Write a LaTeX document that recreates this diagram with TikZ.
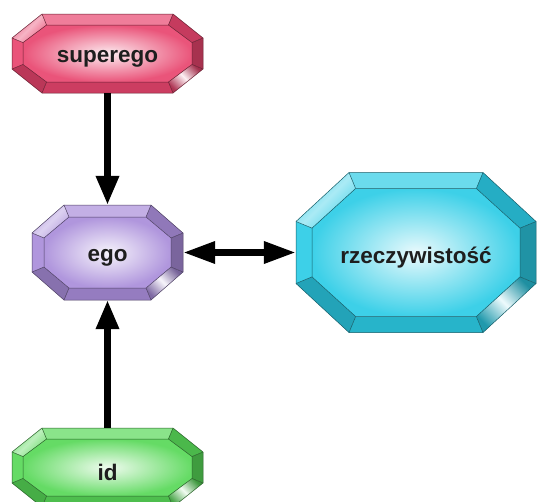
\documentclass[tikz,border=0pt]{standalone}
\usepackage{fontspec}
\setmainfont{Liberation Sans}
\usetikzlibrary{arrows.meta}
\definecolor{cSup}{HTML}{E8456E}
\definecolor{cEgo}{HTML}{A98DDA}
\definecolor{cRz}{HTML}{2CCCE6}
\definecolor{cId}{HTML}{58D858}
\definecolor{txt}{HTML}{1E1E1E}
\tikzset{
  gemnode/.style={rectangle, inner sep=0pt, text=txt, font=\fontsize{22.5}{26}\selectfont\bfseries},
  facet/.style={draw=#1!45!black, line width=0.5pt, line join=round},
  conn/.style={line width=6.5pt, black, -{Triangle[length=29pt,width=22pt]}},
  conn2/.style={line width=6.5pt, black, {Triangle[length=32pt,width=21pt]}-{Triangle[length=32pt,width=21pt]}}
}
% #1 name #2 cx #3 cy #4 w #5 h #6 cutx #7 cuty #8 color #9 text ; bevel in \gb
\newcommand\gemshape[9]{%
 \begin{scope}[shift={(#2,#3)}]
  \pgfmathsetmacro\gk{0.414*\gb}
  \coordinate (OA) at ({-#4+#6},{-#5});
  \coordinate (OB) at ({#4-#6},{-#5});
  \coordinate (OC) at ({#4},{-#5+#7});
  \coordinate (OD) at ({#4},{#5-#7});
  \coordinate (OE) at ({#4-#6},{#5});
  \coordinate (OF) at ({-#4+#6},{#5});
  \coordinate (OG) at ({-#4},{#5-#7});
  \coordinate (OH) at ({-#4},{-#5+#7});
  \coordinate (IA) at ({-#4+#6+\gk},{-#5+\gb});
  \coordinate (IB) at ({#4-#6-\gk},{-#5+\gb});
  \coordinate (IC) at ({#4-\gb},{-#5+#7+\gk});
  \coordinate (ID) at ({#4-\gb},{#5-#7-\gk});
  \coordinate (IE) at ({#4-#6-\gk},{#5-\gb});
  \coordinate (IF) at ({-#4+#6+\gk},{#5-\gb});
  \coordinate (IG) at ({-#4+\gb},{#5-#7-\gk});
  \coordinate (IH) at ({-#4+\gb},{-#5+#7+\gk});
  % facets
  \fill[#8!70!white] (OA)--(OB)--(IB)--(IA)--cycle;
  \fill[#8!85!black] (OB)--(OC)--(IC)--(IB)--cycle;
  \fill[#8!72!black] (OC)--(OD)--(ID)--(IC)--cycle;
  \shade[left color=#8!70!black, right color=#8!75!black, middle color=#8!8!white, shading angle=-45] (OD)--(OE)--(IE)--(ID)--cycle;
  \fill[#8!88!black] (OE)--(OF)--(IF)--(IE)--cycle;
  \fill[#8!80!black] (OF)--(OG)--(IG)--(IF)--cycle;
  \fill[#8!92!white] (OG)--(OH)--(IH)--(IG)--cycle;
  \shade[left color=#8!85!white, right color=#8!85!white, middle color=#8!40!white, shading angle=45] (OH)--(OA)--(IA)--(IH)--cycle;
  % centre
  \shade[inner color=#8!10!white, outer color=#8!92!white] (IA)--(IB)--(IC)--(ID)--(IE)--(IF)--(IG)--(IH)--cycle;
  % edges
  \draw[facet=#8] (OA)--(OB)--(OC)--(OD)--(OE)--(OF)--(OG)--(OH)--cycle;
  \draw[facet=#8] (IA)--(IB)--(IC)--(ID)--(IE)--(IF)--(IG)--(IH)--cycle;
  \draw[facet=#8] (OA)--(IA) (OB)--(IB) (OC)--(IC) (OD)--(ID) (OE)--(IE) (OF)--(IF) (OG)--(IG) (OH)--(IH);
 \end{scope}
 \node[gemnode, minimum width={2*#4pt}, minimum height={2*#5pt}] (#1) at (#2,#3) {\raisebox{-5pt}[\height][\depth]{#9}};
}
\begin{document}
\begin{tikzpicture}[x=1pt,y=-1pt]
\useasboundingbox (0,0) rectangle (537,501);
\clip (0,0) rectangle (537,501);
\def\gb{11}
\gemshape{superego}{107.5}{53.5}{95.5}{39.5}{30}{24}{cSup}{superego}
\def\gb{12}
\gemshape{ego}{107.5}{252.5}{75.5}{47.5}{32}{28}{cEgo}{ego}
\def\gb{16}
\gemshape{rz}{416}{252.5}{120}{80}{53}{49}{cRz}{rzeczywistość}
\def\gb{11}
\gemshape{id}{107.5}{467.5}{95.5}{39.5}{30}{24}{cId}{id}
\draw[conn] (superego) -- (ego);
\draw[conn] (id) -- (ego);
\draw[conn2] (ego.east) -- (ego.east -| rz.west);
\end{tikzpicture}
\end{document}
